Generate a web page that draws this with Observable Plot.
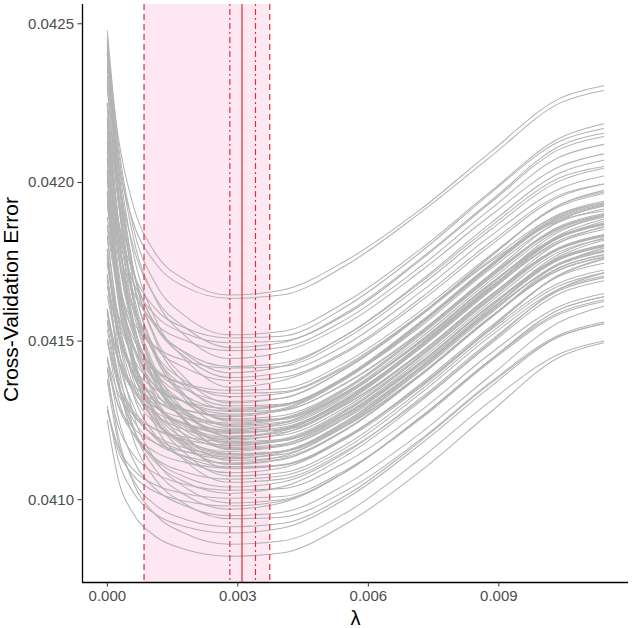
<!DOCTYPE html>
<html><head><meta charset="utf-8">
<script src="https://cdn.jsdelivr.net/npm/d3@7"></script>
<script src="https://cdn.jsdelivr.net/npm/@observablehq/plot@0.6"></script>
<style>
body{margin:0;background:#fff;}
#chart{width:633px;height:628px;}
</style></head><body><div id="chart"></div>
<script>
// lambda positions at which each curve's CV error was read
const lambdaGrid = [0, 0.00025, 0.0006, 0.0011, 0.0018, 0.0028, 0.004, 0.0055, 0.0072, 0.0088, 0.0104, 0.01141];

// curves with the highest minimum
const curvesUpper = [
[.042425,.042144,.041926,.041778,.041692,.041645,.04166,.041755,.041915,.042095,.042265,.042305],
[.042335,.042069,.041873,.041747,.04167,.041635,.041645,.04174,.041905,.04208,.04225,.04229],
[.042478,.042125,.041856,.041683,.041578,.04152,.04153,.041625,.04179,.04197,.04214,.042185],
[.04213,.041882,.041715,.041603,.041541,.04151,.041515,.04161,.04178,.041965,.04213,.04217],
[.04236,.042026,.041797,.041638,.041542,.04148,.041495,.04159,.04176,.04194,.042115,.042155],
[.04201,.041794,.041654,.041556,.041502,.04147,.04148,.04157,.041735,.041915,.04208,.04212],
[.042445,.042105,.041825,.041635,.041515,.041445,.041465,.041555,.04172,.041895,.04205,.04209],
[.04216,.041879,.041679,.041546,.041464,.04142,.04143,.04152,.041685,.04186,.042015,.04205],
[.041865,.041676,.041559,.041483,.041438,.041415,.04142,.04151,.041675,.04185,.042005,.042045],
[.042305,.041974,.041725,.041551,.041449,.041385,.0414,.04149,.041655,.04183,.04198,.04202],
[.042035,.041778,.041599,.041481,.041415,.041375,.041385,.04147,.041635,.04181,.04196,.041995],
[.042435,.042079,.041776,.041571,.041441,.041355,.041375,.041465,.041625,.0418,.041955,.041995],
[.041855,.041647,.041507,.041413,.041361,.041335,.04134,.041425,.041585,.041755,.0419,.041935],
[.042125,.041821,.041605,.041461,.041373,.041325,.041335,.04142,.04158,.04175,.04188,.04191],
[.04193,.041688,.041521,.041409,.041347,.04131,.04132,.041415,.04158,.041765,.04193,.04197],
[.042075,.041843,.041686,.041582,.041524,.041495,.0415,.041585,.041755,.041935,.042105,.042145],
[.04225,.041944,.041715,.041553,.04146,.0414,.04142,.04152,.04169,.04187,.04203,.04207],
[.041745,.041585,.041477,.041405,.041365,.041345,.04135,.041435,.041595,.04177,.041925,.041965],
[.042405,.042031,.041723,.041514,.041382,.041305,.04132,.041415,.041585,.041765,.04193,.041975]
];

// the dense middle band
const curvesMiddle = [
[.042246,.041885,.041629,.041458,.041353,.041296,.041301,.041386,.041546,.041726,.041876,.041916],
[.041689,.041521,.041417,.041349,.041309,.041289,.041299,.041389,.041559,.041739,.041889,.041929],
[.042461,.04206,.041729,.041505,.041364,.041281,.041296,.041391,.041561,.041741,.041901,.041941],
[.04189,.041654,.041487,.041375,.041307,.04127,.04128,.04137,.04153,.04171,.04188,.04193],
[.041566,.04144,.041362,.041311,.041281,.041266,.041286,.041386,.041556,.041736,.041896,.041936],
[.042095,.041776,.041549,.041398,.041305,.041255,.041265,.041355,.041525,.041705,.041855,.041895],
[.042301,.041944,.04165,.041451,.041325,.041251,.041256,.041341,.041501,.041681,.041831,.041871],
[.041742,.041532,.041402,.041317,.041267,.041242,.041257,.041352,.041522,.041702,.041862,.041902],
[.041955,.041681,.041487,.041357,.041278,.041235,.041245,.041335,.041495,.041675,.041845,.041895],
[.042431,.042023,.041687,.041459,.041315,.041231,.041241,.041331,.041501,.041681,.041831,.041871],
[.0416,.04144,.041342,.041277,.041239,.04122,.04124,.04134,.04151,.04169,.04185,.04189],
[.042114,.041772,.041529,.041367,.041268,.041214,.041219,.041304,.041464,.041644,.041794,.041834],
[.041789,.041545,.041395,.041296,.041238,.041209,.041224,.041319,.041489,.041669,.041829,.041869],
[.042321,.04194,.041627,.041414,.041279,.041201,.041211,.041301,.041461,.041641,.041811,.041861],
[.041643,.041472,.041351,.04127,.04122,.041193,.041203,.041293,.041463,.041643,.041793,.041833],
[.041968,.04164,.041438,.041305,.041227,.041188,.041208,.041308,.041478,.041658,.041818,.041858],
[.04218,.04184,.04156,.04137,.04125,.04118,.041185,.04127,.04143,.04161,.04176,.0418],
[.041502,.041363,.041278,.041222,.041189,.041172,.041187,.041282,.041452,.041632,.041792,.041832],
[.041825,.041574,.041396,.041277,.041205,.041165,.041175,.041265,.041425,.041605,.041775,.041825],
[.042411,.041986,.041636,.041399,.041249,.041161,.041171,.041261,.041431,.041611,.041761,.041801],
[.041672,.041474,.041334,.04124,.041183,.041152,.041172,.041272,.041442,.041622,.041782,.041822],
[.042026,.041656,.041428,.041278,.04119,.041146,.041151,.041236,.041396,.041576,.041726,.041766],
[.041417,.041299,.041227,.041179,.041151,.041137,.041152,.041247,.041417,.041597,.041757,.041797],
[.041833,.041567,.041378,.041252,.041175,.041133,.041143,.041233,.041393,.041573,.041743,.041793],
[.042204,.041837,.041534,.041329,.0412,.041124,.041134,.041224,.041394,.041574,.041724,.041764],
[.041536,.04136,.04125,.041179,.041137,.041116,.041136,.041236,.041406,.041586,.041746,.041786],
[.042071,.041706,.041447,.041274,.041169,.041111,.041126,.041221,.041391,.041571,.041731,.041771],
[.041704,.041452,.041296,.041194,.041134,.041104,.041109,.041194,.041354,.041534,.041684,.041724],
[.042248,.041857,.041535,.041317,.041179,.041098,.041108,.041198,.041358,.041538,.041708,.041758],
[.041758,.041576,.041446,.04136,.041307,.041278,.041283,.041368,.041528,.041708,.041858,.041898],
[.042038,.041694,.04148,.041341,.041259,.041218,.041228,.041318,.041478,.041658,.041828,.041878],
[.042196,.041849,.041564,.04137,.041247,.041176,.041191,.041286,.041456,.041636,.041796,.041836],
[.041501,.041364,.041267,.041202,.041163,.041141,.041151,.041241,.041411,.041591,.041741,.041781],
[.041936,.041625,.041433,.041307,.041233,.041196,.041216,.041316,.041486,.041666,.041826,.041866],
[.041965,.041707,.041523,.041401,.041326,.041285,.041295,.041385,.041555,.041735,.041885,.041925],
[.041702,.041517,.041403,.041328,.041284,.041262,.041282,.041382,.041552,.041732,.041892,.041932],
[.042408,.042014,.041689,.041468,.041329,.041248,.041253,.041338,.041498,.041678,.041828,.041868],
[.041588,.041441,.04135,.041291,.041256,.041238,.041253,.041348,.041518,.041698,.041858,.041898],
[.042145,.041795,.041547,.041381,.04128,.041225,.041235,.041325,.041485,.041665,.041835,.041885],
[.041772,.041537,.041391,.041296,.04124,.041212,.041222,.041312,.041482,.041662,.041812,.041852],
[.042239,.041885,.041594,.041397,.041272,.041199,.041219,.041319,.041489,.041669,.041829,.041869],
[.041444,.041335,.041267,.041223,.041197,.041184,.041189,.041274,.041434,.041614,.041764,.041804],
[.04197,.041666,.04145,.041306,.041218,.04117,.041185,.04128,.04145,.04163,.04179,.04183],
[.042378,.041963,.041622,.04139,.041243,.041158,.041168,.041258,.041418,.041598,.041768,.041818],
[.041763,.041527,.04136,.041248,.04118,.041143,.041153,.041243,.041413,.041593,.041743,.041783],
[.041589,.041396,.041276,.041198,.041152,.041129,.041149,.041249,.041419,.041599,.041759,.041799],
[.041973,.041646,.041414,.041259,.041165,.041113,.041128,.041223,.041393,.041573,.041733,.041773],
[.04144,.041297,.041209,.041151,.041117,.0411,.04111,.0412,.04136,.04154,.04171,.04176]
];

// curves with the lowest minimum
const curvesLower = [
[.041785,.041519,.04133,.041204,.041127,.041085,.0411,.041195,.041365,.041545,.041705,.041745],
[.041505,.04132,.041206,.041131,.041087,.041065,.041075,.041165,.041335,.041515,.041665,.041705],
[.042005,.041682,.041416,.041235,.041122,.041055,.041065,.041155,.041315,.041495,.041665,.041715],
[.04138,.041233,.041142,.041083,.041048,.04103,.041035,.04112,.04128,.04146,.04161,.04165],
[.0416,.04138,.041223,.041119,.041055,.04102,.04104,.04114,.04131,.04149,.04165,.04169],
[.04179,.041486,.04127,.041126,.041038,.04099,.041,.04109,.04126,.04144,.04159,.04163],
[.04128,.041154,.041076,.041025,.040995,.04098,.040995,.04109,.04126,.04144,.0416,.04164],
[.04145,.04126,.041125,.041035,.04098,.04095,.04096,.04105,.04121,.04139,.04156,.04161],
[.0416,.041376,.041191,.041065,.040986,.04094,.040945,.04103,.04119,.04137,.04152,.04156],
[.041295,.041127,.041023,.040955,.040915,.040895,.04091,.041005,.041175,.041355,.041515,.041555],
[.04141,.041201,.041053,.040954,.040893,.04086,.04087,.04096,.04113,.04131,.04146,.0415],
[.04125,.041066,.040956,.040885,.040843,.040822,.040832,.040925,.04109,.041275,.04145,.041495],
[.042075,.041735,.041455,.041265,.041145,.041075,.041085,.041175,.041345,.041525,.041675,.041715],
[.04156,.041362,.041222,.041128,.041071,.04104,.041055,.04115,.04132,.0415,.04166,.0417],
[.041285,.041167,.041095,.041047,.041019,.041005,.04101,.041095,.041255,.041435,.041585,.041625],
[.04171,.041429,.041229,.041096,.041014,.04097,.04099,.04109,.04126,.04144,.0416,.04164],
[.041375,.041182,.041062,.040984,.040938,.040915,.040925,.041015,.041185,.041365,.041515,.041555]
];

const xTicks = [0, 0.003, 0.006, 0.009];
const xTickLabels = ["0.000", "0.003", "0.006", "0.009"];
const yTicks = [0.0410, 0.0415, 0.0420, 0.0425];
const yTickLabels = ["0.0410", "0.0415", "0.0420", "0.0425"];

// reference lines: dashed band edges, dot-dash, solid optimum
const vlineLambda = [0.000844, 0.002817, 0.003096, 0.003406, 0.003734];
const vlineDash = ["6,4", "2,3,6,3", null, "2,3,6,3", "6,4"];
const bandLambda = [0.000844, 0.003734];

const xLabel = "λ";
const yLabel = "Cross-Validation Error";

const rows = [];
[...curvesUpper, ...curvesMiddle, ...curvesLower].forEach((c, i) =>
  c.forEach((v, j) => rows.push({id: i, lambda: lambdaGrid[j], cv: v})));

const pad = e => { const p = (e[1] - e[0]) * 0.05; return [e[0] - p, e[1] + p]; };
const xDom = pad(d3.extent(lambdaGrid));
const yDom = pad(d3.extent(rows, d => d.cv));

const red = "#d8323a";
const chart = Plot.plot({
  width: 633, height: 628,
  marginLeft: 82, marginRight: 5, marginTop: 4, marginBottom: 46,
  x: {domain: xDom},
  y: {domain: yDom},
  style: {fontFamily: "'Liberation Sans', Arial, sans-serif", background: "#fff", overflow: "visible"},
  marks: [
    Plot.rect([bandLambda], {x1: d => d[0], x2: d => d[1], fill: "#fde7f2"}),
    Plot.line(rows, {x: "lambda", y: "cv", z: "id", stroke: "#b3b3b3", strokeWidth: 1.05, curve: "monotone-x"}),
    ...vlineLambda.map((v, i) => Plot.ruleX([v], {stroke: red, strokeWidth: 1.2, strokeDasharray: vlineDash[i]})),
    Plot.ruleX([xDom[0]], {stroke: "#000", strokeWidth: 1.3}),
    Plot.ruleY([yDom[0]], {stroke: "#000", strokeWidth: 1.3}),
    Plot.axisX(xTicks, {tickSize: 4.5, tickPadding: 3, fontSize: 15, label: null, stroke: "#333", fill: "#4d4d4d",
      tickFormat: d => xTickLabels[xTicks.indexOf(d)]}),
    Plot.axisY(yTicks, {tickSize: 4.5, tickPadding: 4, fontSize: 15, label: null, stroke: "#333", fill: "#4d4d4d",
      tickFormat: d => yTickLabels[yTicks.indexOf(d)]}),
    Plot.text([yLabel], {text: d => d, frameAnchor: "left", textAnchor: "middle", lineAnchor: "middle",
      dx: -71, dy: 6, rotate: -90, fontSize: 21, fill: "#000"}),
    Plot.text([xLabel], {text: d => d, frameAnchor: "bottom", lineAnchor: "middle", dy: 36, fontSize: 20, fill: "#000"})
  ]
});
document.getElementById("chart").appendChild(chart);
</script>
</body></html>
